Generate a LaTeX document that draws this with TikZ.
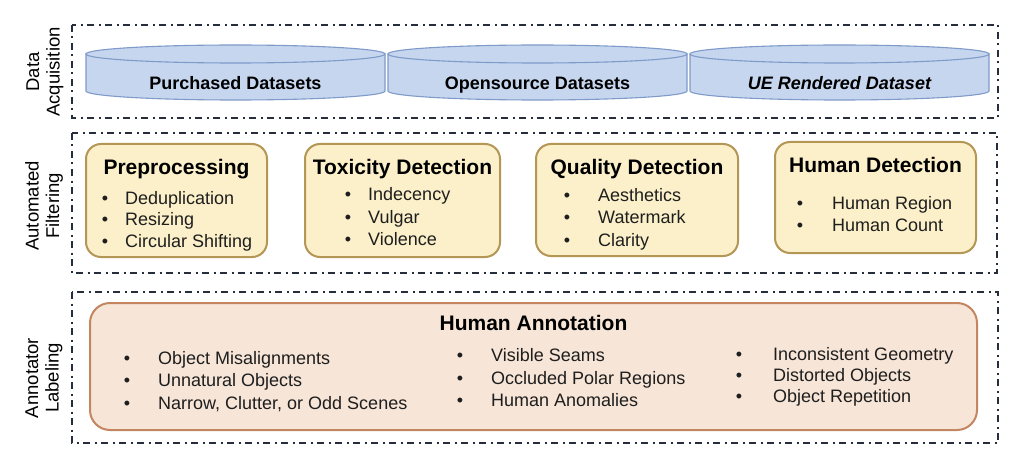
\documentclass[tikz,border=0pt]{standalone}
\usepackage{fontspec}
\setmainfont{Liberation Sans}
\definecolor{dashcol}{RGB}{38,46,60}
\definecolor{cylfill}{RGB}{198,214,239}
\definecolor{cylline}{RGB}{126,155,201}
\definecolor{ffill}{RGB}{251,240,201}
\definecolor{fline}{RGB}{180,150,85}
\definecolor{afill}{RGB}{247,229,215}
\definecolor{aline}{RGB}{195,134,96}
\definecolor{txt}{RGB}{30,30,30}
\begin{document}
\begin{tikzpicture}[x=1pt,y=-1pt,
  dashbox/.style={draw=dashcol, line width=2pt, dash pattern=on 7pt off 4.5pt on 2pt off 4.5pt},
  cyl/.style={fill=cylfill, draw=cylline, line width=1.1pt},
  fbox/.style={draw=fline, fill=ffill, line width=2pt, rounded corners=15pt, inner sep=0pt},
  abox/.style={draw=aline, fill=afill, line width=2pt, rounded corners=20pt, inner sep=0pt},
  ttl/.style={font=\fontsize{21}{24}\selectfont\bfseries, text=black, anchor=mid, inner sep=0pt, yshift=-4.5pt},
  itm/.style={font=\fontsize{18}{21}\selectfont, text=txt, anchor=mid west, inner sep=0pt, yshift=-4.5pt},
  bul/.style={font=\fontsize{18}{21}\selectfont, text=txt, anchor=mid, inner sep=0pt, yshift=-4.5pt},
  rowlab/.style={font=\fontsize{18.5}{20.5}\selectfont, rotate=90, align=center, inner sep=0pt},
  cyllab/.style={font=\fontsize{18}{21}\selectfont\bfseries, anchor=mid, inner sep=0pt, yshift=-4.5pt}
]
\useasboundingbox (0,0) rectangle (1024,465);
\fill[white] (0,0) rectangle (1024,465);

% dashed section frames
\draw[dashbox] (72,25) rectangle (998,118);
\draw[dashbox] (72,133) rectangle (997,273);
\draw[dashbox] (72,292) rectangle (998,443);

% row labels
\node[rowlab] (lab1) at (45,72) {Data\\Acquisition};
\node[rowlab] (lab2) at (44,206) {Automated\\Filtering};
\node[rowlab] (lab3) at (44,378) {Annotator\\Labeling};

% cylinders
\foreach \xa/\xb/\nm in {86/385/c1, 388/687/c2, 690/989/c3}{
  \pgfmathsetmacro{\rx}{(\xb-\xa)/2}
  \filldraw[cyl] (\xa,54) -- (\xa,91) arc[start angle=180, end angle=0, x radius=\rx, y radius=9] -- (\xb,54) -- cycle;
  \filldraw[cyl] ({(\xa+\xb)/2},54) ellipse[x radius=\rx, y radius=9];
}
\node[cyllab] (t1) at (235.5,82) {Purchased Datasets};
\node[cyllab] (t2) at (537.5,82) {Opensource Datasets};
\node[cyllab] (t3) at (839.5,82) {\itshape UE Rendered Dataset};

% filter boxes
\node[fbox, minimum width=181pt, minimum height=113pt] (pre) at (176.5,200.5) {};
\node[fbox, minimum width=195pt, minimum height=113pt] (tox) at (402.5,200.5) {};
\node[fbox, minimum width=202pt, minimum height=112pt] (qual) at (637,200) {};
\node[fbox, minimum width=201pt, minimum height=111pt] (hum) at (875.5,197.5) {};

\node[ttl] (preT) at (176.5,167) {Preprocessing};
\node[ttl] (toxT) at (402.5,167) {Toxicity Detection};
\node[ttl] (qualT) at (637,167) {Quality Detection};
\node[ttl] (humT) at (875.5,165) {Human Detection};

\foreach \y/\t [count=\i] in {197/Deduplication, 218/Resizing, 240/Circular Shifting}{
  \node[bul] (pb\i) at (105,\y) {•};
  \node[itm] (pi\i) at (125,\y) {\t};
}
\foreach \y/\t [count=\i] in {193/Indecency, 216/Vulgar, 238/Violence}{
  \node[bul] (tb\i) at (348,\y) {•};
  \node[itm] (ti\i) at (368,\y) {\t};
}
\foreach \y/\t [count=\i] in {194/Aesthetics, 216/Watermark, 239/Clarity}{
  \node[bul] (qb\i) at (567,\y) {•};
  \node[itm] (qi\i) at (598,\y) {\t};
}
\foreach \y/\t [count=\i] in {202/Human Region, 224/Human Count}{
  \node[bul] (hb\i) at (800,\y) {•};
  \node[itm] (hi\i) at (832,\y) {\t};
}

% annotation box
\node[abox, minimum width=887pt, minimum height=127pt] (ann) at (533.5,366.5) {};
\node[ttl] (annT) at (533.5,323) {Human Annotation};
\foreach \y/\t [count=\i] in {357/Object Misalignments, 379/Unnatural Objects, 402/{Narrow, Clutter, or Odd Scenes}}{
  \node[bul] (ab\i) at (127,\y) {•};
  \node[itm] (ai\i) at (158,\y) {\t};
}
\foreach \y/\t [count=\i] in {354/Visible Seams, 377/Occluded Polar Regions, 399/Human Anomalies}{
  \node[bul] (bb\i) at (460,\y) {•};
  \node[itm] (bi\i) at (491,\y) {\t};
}
\foreach \y/\t [count=\i] in {353/Inconsistent Geometry, 374/Distorted Objects, 395/Object Repetition}{
  \node[bul] (cb\i) at (739,\y) {•};
  \node[itm] (ci\i) at (773,\y) {\t};
}
\end{tikzpicture}
\end{document}
